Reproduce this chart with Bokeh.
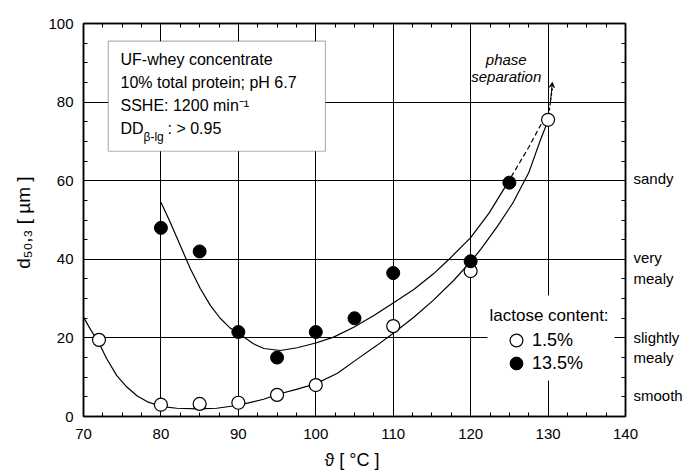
from bokeh.plotting import figure
from bokeh.models import (Range1d, LinearAxis, SingleIntervalTicker, FixedTicker, BoxAnnotation, Label,
                          Legend, LegendItem, Arrow, VeeHead)
from bokeh.embed import file_html
from bokeh.resources import INLINE

# ---------------- data ----------------
open_x = [72, 80, 85, 90, 95, 100, 110, 120, 130]
open_y = [19.5, 3.0, 3.2, 3.5, 5.5, 8.0, 23.0, 37.0, 75.5]
filled_x = [80, 85, 90, 95, 100, 105, 110, 120, 125]
filled_y = [48.0, 42.0, 21.5, 15.0, 21.5, 25.0, 36.5, 39.5, 59.5]

open_curve_x = [70, 70.86, 71.94, 73.0, 74.3, 75.6, 76.9, 78.2, 79.9, 82.05, 84.85, 87.2, 89.8,
                91.6, 93.25, 95.0, 97.5, 99.96, 102.8, 105.35, 107.9, 110.1, 112.7, 115.2, 117.8,
                120, 121.3, 123.5, 125.5, 127.5, 129, 130]
open_curve_y = [25.3, 22.3, 18.9, 14.7, 10.4, 7.5, 5.3, 3.8, 2.6, 2.1, 1.95, 2.1, 2.8,
                3.6, 4.4, 5.6, 6.9, 8.3, 11.0, 14.6, 18.1, 21.3, 25.3, 29.6, 34.6,
                39.4, 42.5, 48.5, 54.5, 62.0, 70.3, 75.3]
open_ext_x = [130, 130.3, 130.55]
open_ext_y = [75.3, 80.0, 83.5]

filled_curve_x = [80, 81.2, 82.5, 83.8, 85.1, 86.4, 87.65, 88.95, 90.7, 91.95, 93.3, 95.4, 97.6,
                  100, 102.3, 104.9, 107.5, 110.1, 112.7, 115.2, 117.2, 120, 122.4, 124.7]
filled_curve_y = [54.5, 49.4, 43.5, 37.6, 32.5, 28.2, 25.0, 22.5, 20.2, 18.5, 17.3, 16.8, 17.5,
                  18.7, 20.2, 22.7, 25.7, 29.0, 32.4, 36.3, 40.0, 45.5, 51.8, 59.2]
filled_ext_x = [124.7, 126, 127.5, 129, 129.6]
filled_ext_y = [59.2, 63.5, 68.5, 74.0, 76.5]

series_names = ["1.5%", "13.5%"]
legend_title = "lactose content:"

texture_labels = ["sandy", "very\nmealy", "slightly\nmealy", "smooth"]
texture_levels = [60.6, 37.8, 17.6, 5.3]

info_lines = ["UF-whey concentrate", "10% total protein; pH 6.7", "SSHE: 1200 min\u207b\u00b9"]
info_dd = ["DD", "\u03b2-lg", ": > 0.95"]

x_label = "\u03d1  [ \u00b0C ]"
y_label = "d\u2085\u2080,\u2083  [ \u00b5m ]"

x_minor = [70 + 2.5 * i for i in range(29)]
y_minor = [5 * i for i in range(21)]

# ---------------- figure ----------------
FONT = "Liberation Sans"
PX_X = 542 / 70.0   # pixels per x unit
PX_Y = 393 / 100.0  # pixels per y unit

p = figure(frame_width=542, frame_height=393,
           x_range=Range1d(70, 140), y_range=Range1d(0, 100),
           output_backend="svg", toolbar_location=None,
           min_border_left=83, min_border_right=61, min_border_top=23, min_border_bottom=59)
p.background_fill_color = "white"
p.border_fill_color = "white"
p.outline_line_color = "black"
p.outline_line_width = 1.5

p.xaxis.ticker = SingleIntervalTicker(interval=10, num_minor_ticks=4)
p.yaxis.ticker = SingleIntervalTicker(interval=20, num_minor_ticks=4)

for ax in (p.xaxis[0], p.yaxis[0]):
    ax.axis_line_color = "black"
    ax.axis_line_width = 1.5
    ax.major_tick_in = 0
    ax.major_tick_out = 0
    ax.minor_tick_in = 4
    ax.minor_tick_out = 0
    ax.minor_tick_line_color = "black"
    ax.major_label_text_font = FONT
    ax.major_label_text_font_size = "15px"
    ax.major_label_text_color = "black"
    ax.axis_label_text_font = FONT
    ax.axis_label_text_font_style = "normal"
    ax.axis_label_text_color = "black"

p.xaxis.major_label_standoff = 12
p.xaxis.axis_label = x_label
p.xaxis.axis_label_text_font_size = "18px"
p.xaxis.axis_label_standoff = 8
p.yaxis.major_label_standoff = 10
p.yaxis.axis_label = y_label
p.yaxis.axis_label_text_font_size = "19px"
p.yaxis.axis_label_standoff = 11

# right axis: texture classes as labels, minor ticks inside
rax = LinearAxis(ticker=FixedTicker(ticks=texture_levels, minor_ticks=y_minor),
                 major_label_overrides={lv: lb for lv, lb in zip(texture_levels, texture_labels)},
                 major_label_text_font=FONT, major_label_text_font_size="15px",
                 major_label_text_color="black", major_label_standoff=8,
                 major_tick_in=0, major_tick_out=0, minor_tick_in=4, minor_tick_out=0,
                 minor_tick_line_color="black", axis_line_color="black", axis_line_width=1.5)
p.add_layout(rax, "right")
tax = LinearAxis(ticker=FixedTicker(ticks=[], minor_ticks=x_minor),
                 major_tick_in=0, major_tick_out=0, minor_tick_in=4, minor_tick_out=0,
                 minor_tick_line_color="black", axis_line_color="black", axis_line_width=1.5,
                 major_label_standoff=0)
p.add_layout(tax, "above")

p.xgrid.grid_line_color = "black"
p.xgrid.grid_line_width = 1
p.ygrid.grid_line_color = "black"
p.ygrid.grid_line_width = 1

# curves
p.line(open_curve_x, open_curve_y, line_color="black", line_width=1.2, line_join="round")
p.line(open_ext_x, open_ext_y, line_color="black", line_width=1.2, line_dash="3 2")
p.line(filled_curve_x, filled_curve_y, line_color="black", line_width=1.2, line_join="round")
p.line(filled_ext_x, filled_ext_y, line_color="black", line_width=1.2, line_dash="5 3")

# points
open_r = p.scatter(open_x, open_y, marker="circle", size=13, fill_color="white",
                   line_color="black", line_width=1.2)
filled_r = p.scatter(filled_x, filled_y, marker="circle", size=13, fill_color="black",
                     line_color="black")

# small arrow at the phase separation point
p.add_layout(Arrow(end=VeeHead(size=5, line_color="black", line_width=1), x_start=open_ext_x[-2],
                   y_start=open_ext_y[-2], x_end=open_ext_x[-1], y_end=open_ext_y[-1] + 1.5,
                   line_color="black", line_width=1))

# info box
p.add_layout(BoxAnnotation(left=73.2, right=101.25, bottom=67.5, top=95.5,
                           fill_color="white", fill_alpha=1.0, line_color="black", line_width=1.2))
tx = 70 + (120 - 83) / PX_X
line_y = [90.84, 84.99, 79.13, 73.28]
for s, yy in zip(info_lines, line_y):
    p.add_layout(Label(x=tx, y=yy, text=s, text_font=FONT, text_font_size="16px",
                       text_baseline="middle", text_align="left", text_color="black"))
p.add_layout(Label(x=tx, y=line_y[3], text=info_dd[0], text_font=FONT, text_font_size="16px",
                   text_baseline="middle", text_color="black"))
p.add_layout(Label(x=70 + (143 - 83) / PX_X, y=line_y[3] - 8 / PX_Y, text=info_dd[1], text_font=FONT,
                   text_font_size="12px", text_baseline="middle", text_color="black"))
p.add_layout(Label(x=70 + (167 - 83) / PX_X, y=line_y[3], text=info_dd[2], text_font=FONT,
                   text_font_size="16px", text_baseline="middle", text_color="black"))

# phase separation text
for s, yy in zip(["phase", "separation"], [90.8, 86.5]):
    p.add_layout(Label(x=124.6, y=yy, text=s, text_font=FONT, text_font_size="15px",
                       text_font_style="italic", text_align="center", text_baseline="middle",
                       text_color="black"))

# legend background + title + legend entries
p.add_layout(BoxAnnotation(left=70 + (487 - 83) / PX_X, right=70 + (614 - 83) / PX_X,
                           bottom=(416 - 380) / PX_Y, top=(416 - 295) / PX_Y,
                           fill_color="white", fill_alpha=1.0, line_alpha=0))
p.add_layout(Label(x=70 + (489 - 83) / PX_X, y=(416 - 315) / PX_Y, text=legend_title,
                   text_font=FONT, text_font_size="17px", text_baseline="middle", text_color="black"))
for name, rend, loc in zip(series_names, [open_r, filled_r], [(417, 60), (417, 37)]):
    lg = Legend(items=[LegendItem(label=name, renderers=[rend])],
                location=loc, padding=0, spacing=0, glyph_width=32, glyph_height=32,
                label_standoff=-3, background_fill_alpha=0, border_line_alpha=0,
                label_text_font=FONT, label_text_font_size="18px", label_text_color="black",
                margin=0)
    p.add_layout(lg)

open("out.html", "w").write(file_html(p, INLINE))
